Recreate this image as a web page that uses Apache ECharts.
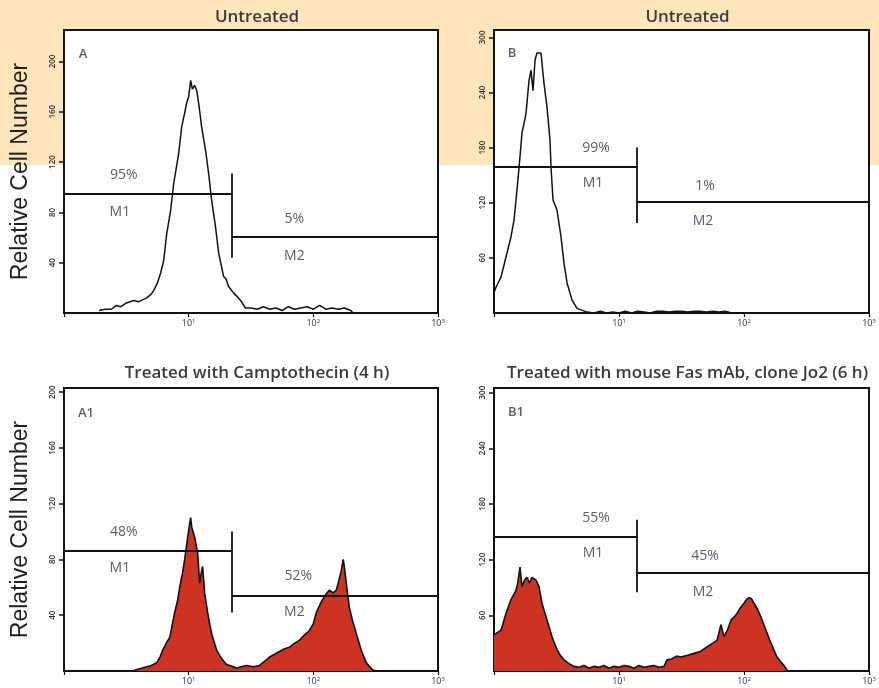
<!DOCTYPE html>
<html><head><meta charset="utf-8">
<script src="https://cdn.jsdelivr.net/npm/echarts@6/dist/echarts.min.js"></script>
<style>html,body{margin:0;padding:0;background:#fff}#c{width:879px;height:688px}</style>
</head><body><div id="c"></div><script>
// ---- data (x as log10 of fluorescence, y as relative cell count) ----
const panelTitles = ['Untreated', 'Untreated', 'Treated with Camptothecin (4 h)', 'Treated with mouse Fas mAb, clone Jo2 (6 h)'];
const panelLetters = ['A', 'B', 'A1', 'B1'];
const yTickValues = [[40, 80, 120, 160, 200], [60, 120, 180, 240, 300], [40, 80, 120, 160, 200], [60, 120, 180, 240, 300]];
const xTickExponents = [0, 1, 2, 3];

const expA = [0.28,0.33,0.38,0.42,0.456,0.50,0.56,0.60,0.664,0.70,0.72,0.75,0.776,0.80,0.824,0.856,0.88,0.92,0.944,0.97,0.984,1.0,1.016,1.03,1.048,1.064,1.08,1.104,1.136,1.16,1.184,1.216,1.24,1.28,1.30,1.32,1.36,1.39,1.416,1.456,1.5,1.55,1.6,1.65,1.7,1.75,1.8,1.85,1.9,1.95,2.0,2.05,2.1,2.15,2.2,2.25,2.3,2.32];
const cntA = [2,3,3,6,5,8,10,9,12,15,18,24,32,42,63,82,103,127,148,160,167,172,185,178,181,177,167,148,129,111,90,68,48,29,27,21,16,13,10,4,4,3,5,3,4,2,5,3,4,5,3,6,3,4,3,4,2,0];

const expB = [0.0,0.016,0.056,0.096,0.136,0.16,0.184,0.208,0.224,0.256,0.28,0.296,0.312,0.328,0.344,0.36,0.376,0.4,0.424,0.448,0.456,0.472,0.504,0.536,0.56,0.584,0.624,0.664,0.744,0.8,0.85,0.9,0.95,1.0,1.05,1.1,1.15,1.2,1.25,1.3,1.35,1.4,1.45,1.5,1.55,1.6,1.65,1.7,1.75,1.8,1.85,1.9];
const cntB = [22,28,39,61,83,101,134,170,196,217,253,264,242,275,283,283,283,250,224,188,159,123,112,83,54,33,14,5,1,0,2,0,1,0,2,0,2,1,0,2,2,1,2,2,1,2,2,1,2,1,2,0];

const expA1 = [0.55,0.584,0.62,0.664,0.70,0.744,0.77,0.792,0.82,0.848,0.87,0.888,0.91,0.928,0.95,0.968,0.98,0.992,1.005,1.016,1.025,1.032,1.048,1.06,1.072,1.088,1.1,1.112,1.128,1.152,1.17,1.184,1.2,1.224,1.25,1.272,1.3,1.328,1.36,1.384,1.42,1.464,1.52,1.568,1.61,1.648,1.69,1.728,1.77,1.808,1.85,1.888,1.93,1.968,2.0,2.024,2.05,2.072,2.1,2.128,2.16,2.184,2.205,2.224,2.24,2.25,2.264,2.288,2.312,2.344,2.384,2.424,2.472,2.5];
const cntA1 = [0,1,2,3,4,6,10,15,20,24,34,42,50,60,70,80,88,96,104,110,103,101,96,90,85,63,70,75,56,42,33,27,22,15,11,8,5,4,3,2,3,4,3,4,7,10,12,14,16,17,20,22,26,29,34,42,47,51,55,58,56,58,65,72,80,74,63,46,37,27,15,6,1,0];

const expB1 = [0.0,0.016,0.056,0.096,0.136,0.176,0.19,0.208,0.224,0.245,0.264,0.285,0.304,0.32,0.336,0.36,0.384,0.404,0.424,0.444,0.464,0.484,0.504,0.53,0.56,0.6,0.64,0.68,0.72,0.76,0.8,0.84,0.88,0.92,0.96,1.0,1.04,1.08,1.12,1.16,1.2,1.24,1.28,1.32,1.36,1.384,1.42,1.46,1.496,1.55,1.6,1.65,1.704,1.75,1.784,1.816,1.84,1.87,1.896,1.92,1.944,1.97,2.0,2.02,2.04,2.06,2.08,2.11,2.136,2.176,2.216,2.264,2.3,2.32,2.344,2.36];
const cntB1 = [39,40,44,62,77,87,95,112,91,98,101,95,101,99,98,91,73,64,55,46,37,30,23,17,12,8,5,4,6,3,5,4,6,3,5,4,6,5,3,6,4,5,6,4,5,12,13,16,15,17,19,21,26,30,33,50,37,45,55,58,62,68,73,77,79,78,73,66,58,44,30,15,9,6,1,0];

// marker gates: gate exponent, M1 level, M2 level, bar top, bar bottom
const gateExp = [1.344, 1.144, 1.344, 1.144];
const m1Level = [95, 159, 86, 145];
const m2Level = [61, 121, 54, 106];
const barTop = [111, 180, 100, 163];
const barBottom = [44, 98, 42, 85];
const pctM1 = ['95%', '99%', '48%', '55%'];
const pctM2 = ['5%', '1%', '52%', '45%'];

// annotation anchor positions in data space [exp, count]
const annotPos = [
  {letter:[0.152,206], p1:[0.48,110], m1:[0.448,80], p2:[1.848,75], m2:[1.848,45]},
  {letter:[0.144,283], p1:[0.816,180], m1:[0.792,141], p2:[1.688,138], m2:[1.672,100]},
  {letter:[0.176,185], p1:[0.48,100], m1:[0.448,74], p2:[1.88,68], m2:[1.848,42]},
  {letter:[0.176,279], p1:[0.816,165], m1:[0.792,127], p2:[1.688,124], m2:[1.672,85]}
];

const allExp = [expA, expB, expA1, expB1];
const allCnt = [cntA, cntB, cntA1, cntB1];
const filled = [false, false, true, true];

// ---- layout ----
const grids = [
  {left:64, top:30, width:374, height:283},
  {left:494, top:30, width:375, height:283},
  {left:64, top:388, width:374, height:283},
  {left:494, top:388, width:375, height:283}
];
const yMax = [225, 308, 203, 305];

const pw = v => Math.pow(10, v);
const option = {
  animation: false,
  backgroundColor: '#fff',
  graphic: [{type:'rect', z:-100, shape:{x:0, y:0, width:879, height:165}, style:{fill:'#FDE5BC'}}],
  title: grids.map((g, i) => ({
    text: panelTitles[i], left: g.left + g.width / 2 + 1, top: i < 2 ? 4 : 360, textAlign: 'center',
    textStyle: {fontFamily: 'Open Sans', fontSize: 17, fontWeight: 600, color: '#3a3a3a'}
  })),
  grid: grids.map(g => Object.assign({show:true, backgroundColor:'#fff', borderColor:'#111', borderWidth:2}, g)),
  xAxis: grids.map((g, i) => ({
    type: 'log', logBase: 10, min: pw(xTickExponents[0]), max: pw(xTickExponents[3]), gridIndex: i,
    axisLine: {show:true, lineStyle:{color:'#111', width:2}},
    axisTick: {show:true, length:4, lineStyle:{color:'#111', width:1.2}},
    minorTick: {show:false}, splitLine: {show:false},
    axisLabel: {
      margin: 5, fontFamily: 'Open Sans', fontSize: 9, color: '#333',
      formatter: v => { const n = Math.round(Math.log10(v)); return n === 0 ? '' : '10{s|' + n + '}'; },
      rich: {s: {fontSize: 6, verticalAlign: 'top', padding:[0,0,4,0], color:'#333'}}
    }
  })),
  yAxis: grids.map((g, i) => ({
    type: 'value', min: 0, max: yMax[i], gridIndex: i,
    name: (i % 2 === 0) ? 'Relative Cell Number' : '', nameLocation: 'middle', nameGap: 32, nameRotate: 90,
    nameTextStyle: {fontFamily: 'Liberation Sans', fontSize: 23, color: '#1e1e1e'},
    axisLine: {show:true, lineStyle:{color:'#111', width:2}},
    axisTick: {show:true, length:5, customValues: yTickValues[i], lineStyle:{color:'#111', width:1.5}},
    splitLine: {show:false},
    axisLabel: {customValues: yTickValues[i], rotate: 90, margin: 7, fontFamily: 'Open Sans', fontSize: 8, fontWeight: 600, color: '#333'}
  })),
  series: []
};

grids.forEach((g, i) => {
  const gx = pw(gateExp[i]);
  option.series.push({
    type: 'line', xAxisIndex: i, yAxisIndex: i, symbol: 'none', z: 3,
    data: allExp[i].map((e, k) => [pw(e), allCnt[i][k]]),
    lineStyle: {color: '#111', width: filled[i] ? 1.6 : 1.5},
    areaStyle: filled[i] ? {color: '#CC3322', opacity: 1} : undefined,
    markLine: {
      silent: true, symbol: ['none', 'none'], label: {show:false},
      lineStyle: {color: '#111', width: 1.8, type: 'solid'},
      data: [
        [{coord: [pw(xTickExponents[0]), m1Level[i]]}, {coord: [gx, m1Level[i]]}],
        [{coord: [gx, barTop[i]]}, {coord: [gx, barBottom[i]]}],
        [{coord: [gx, m2Level[i]]}, {coord: [pw(xTickExponents[3]), m2Level[i]]}]
      ]
    }
  });
  const a = annotPos[i];
  const items = [
    {name: panelLetters[i], value: [pw(a.letter[0]), a.letter[1]], label: {fontSize: 13, fontWeight: 600}},
    {name: pctM1[i], value: [pw(a.p1[0]), a.p1[1]]},
    {name: 'M1', value: [pw(a.m1[0]), a.m1[1]]},
    {name: pctM2[i], value: [pw(a.p2[0]), a.p2[1]]},
    {name: 'M2', value: [pw(a.m2[0]), a.m2[1]]}
  ];
  option.series.push({
    type: 'scatter', xAxisIndex: i, yAxisIndex: i, symbolSize: 0, silent: true, z: 5,
    data: items,
    label: {show: true, position: 'inside', formatter: p => p.name, fontFamily: 'Open Sans', fontSize: 14, color: '#2e3150'}
  });
});

const chart = echarts.init(document.getElementById('c'), null, {renderer: 'canvas'});
chart.setOption(option);
</script></body></html>
